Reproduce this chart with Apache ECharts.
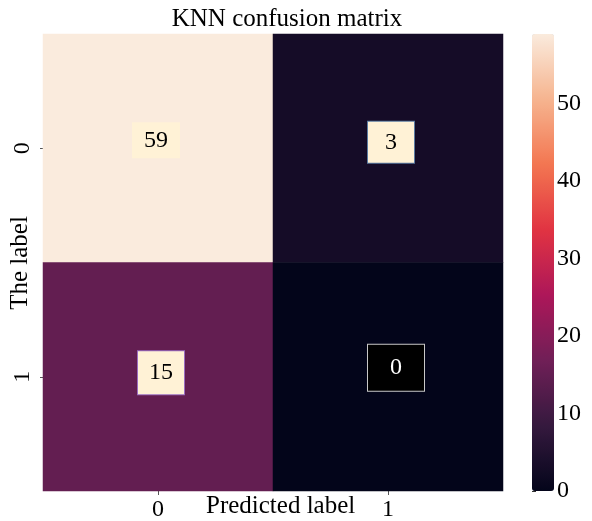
<!DOCTYPE html>
<html>
<head>
<meta charset="utf-8">
<script src="https://cdn.jsdelivr.net/npm/echarts@6/dist/echarts.min.js"></script>
<style>
html,body{margin:0;padding:0;background:#fff;}
#chart{width:592px;height:521px;}
</style>
</head>
<body>
<div id="chart"></div>
<script>
// Data
var xCategories = ['0', '1'];          // predicted label
var yCategories = ['0', '1'];          // true label
var row0 = [59, 3];
var row1 = [15, 0];
var colorbarTicks = [0, 10, 20, 30, 40, 50];
var valueMin = 0;
var valueMax = 59;
var xAxisName = 'Predicted label';
var yAxisName = 'The label';

var rocket = ['#03051A', '#35193e', '#701f57', '#ad1759', '#e13342', '#f37651', '#f6b48f', '#FAEBDD'];

var labelStyles = {
  '0,0': {backgroundColor: '#FFF2D6', borderColor: '#FFF2D6', color: '#000', offset: [-2, -8], padding: [6, 11, 4, 11]},
  '1,0': {backgroundColor: '#FFF2D6', borderColor: '#5a7aa0', color: '#000', offset: [3, -6], padding: [9, 17, 8, 17]},
  '0,1': {backgroundColor: '#FFF2D6', borderColor: '#9a6cc0', color: '#000', offset: [3, -4], padding: [10, 11, 9, 11]},
  '1,1': {backgroundColor: '#000000', borderColor: '#c8c8c8', color: '#fff', offset: [8, -9], padding: [12, 22, 10, 22]}
};

var rows = [row0, row1];
var heatData = [];
for (var r = 0; r < rows.length; r++) {
  for (var c = 0; c < rows[r].length; c++) {
    var s = labelStyles[c + ',' + r];
    heatData.push({
      value: [c, r, rows[r][c]],
      label: {
        show: true,
        formatter: String(rows[r][c]),
        fontFamily: 'Liberation Serif',
        fontSize: 24,
        color: s.color,
        backgroundColor: s.backgroundColor,
        borderColor: s.borderColor,
        borderWidth: 1,
        padding: s.padding,
        offset: s.offset
      }
    });
  }
}

var serif = 'Liberation Serif';
var chart = echarts.init(document.getElementById('chart'));
chart.setOption({
  animation: false,
  backgroundColor: '#ffffff',
  title: {
    text: 'KNN confusion matrix',
    left: 282, top: 2, textAlign: 'center',
    textStyle: {fontFamily: serif, fontSize: 25, fontWeight: 'normal', color: '#000'}
  },
  graphic: [
    {type: 'text', left: 206, top: 494, silent: true,
     style: {text: xAxisName, fontFamily: serif, fontSize: 25, fill: '#000'}},
    {type: 'text', x: 20, y: 263, rotation: Math.PI / 2, silent: true,
     style: {text: yAxisName, fontFamily: serif, fontSize: 25, fill: '#000', align: 'center', verticalAlign: 'middle'}}
  ],
  grid: [
    {left: 43, top: 34, width: 460, height: 457, containLabel: false, outerBoundsMode: 'none'},
    {left: 532, top: 34, width: 22, height: 457, containLabel: false, outerBoundsMode: 'none'}
  ],
  xAxis: [
    {
      type: 'category', gridIndex: 0, data: xCategories, position: 'bottom',
      axisLine: {show: false},
      axisTick: {show: true, alignWithLabel: true, length: 4, lineStyle: {color: '#555'}},
      axisLabel: {fontFamily: serif, fontSize: 24, color: '#000', margin: 7},
      splitLine: {show: false}
    },
    {type: 'value', gridIndex: 1, show: false, min: 0, max: 1}
  ],
  yAxis: [
    {
      type: 'category', gridIndex: 0, data: yCategories, inverse: true,
      axisLine: {show: false},
      axisTick: {show: true, alignWithLabel: true, length: 3, lineStyle: {color: '#555'}},
      axisLabel: {fontFamily: serif, fontSize: 24, color: '#000', rotate: 90, margin: 8},
      splitLine: {show: false}
    },
    {
      type: 'value', gridIndex: 1, position: 'right', min: valueMin, max: valueMax,
      axisLine: {show: false},
      axisTick: {show: true, length: 4, lineStyle: {color: '#333'}, customValues: colorbarTicks},
      axisLabel: {fontFamily: serif, fontSize: 24, color: '#000', margin: 3, customValues: colorbarTicks},
      splitLine: {show: false}
    }
  ],
  visualMap: {
    type: 'continuous',
    min: valueMin, max: valueMax,
    seriesIndex: 0,
    calculable: false,
    realtime: false,
    hoverLink: false,
    itemWidth: 22,
    itemHeight: 457,
    left: 532, top: 34,
    padding: 0,
    text: ['', ''],
    showLabel: false,
    inRange: {color: rocket}
  },
  series: [{
    type: 'heatmap',
    xAxisIndex: 0, yAxisIndex: 0,
    data: heatData,
    itemStyle: {borderWidth: 0},
    emphasis: {disabled: true}
  }]
});
</script>
</body>
</html>
